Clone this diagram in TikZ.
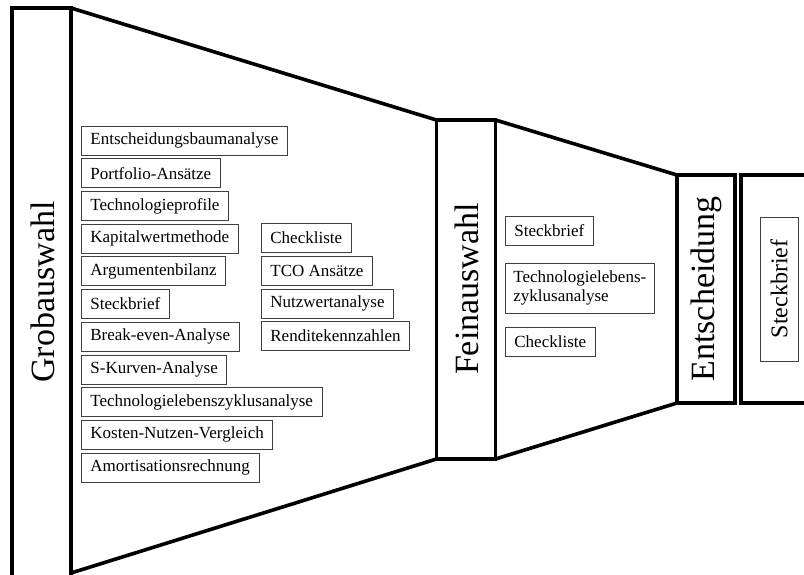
\documentclass[tikz,border=0pt]{standalone}
\usepackage{fontspec}
\setmainfont{Liberation Serif}
\begin{document}
\begin{tikzpicture}[x=1pt,y=-1pt,
  frame/.style={line width=3.6pt},
  item/.style={draw=black!75, line width=0.8pt, font=\fontsize{17}{19.5}\selectfont,
    inner xsep=9pt, inner ysep=0pt, minimum height=29pt, anchor=west},
  stage/.style={rotate=90, font=\fontsize{34}{40}\selectfont, inner sep=0pt}]
\useasboundingbox (0,0) rectangle (804,575);
% frame coordinates
\coordinate (g1) at (12,8);
\coordinate (g2) at (71,8);
\coordinate (g3) at (71,577);
\coordinate (g4) at (12,577);
\coordinate (g3b) at (71,573);
\coordinate (f1) at (436.5,120);
\coordinate (f2) at (495.5,120);
\coordinate (f3) at (495.5,459);
\coordinate (f4) at (436.5,459);
\coordinate (e1) at (677,175);
\coordinate (e2) at (735,175);
\coordinate (e3) at (735,403);
\coordinate (e4) at (677,403);
\coordinate (r1) at (741,175);
\coordinate (r2) at (741,403);
\coordinate (r1e) at (810,175);
\coordinate (r2e) at (810,403);
% frames
\draw[frame] (g1) -- (g2) -- (g3) -- (g4) -- cycle;
\draw[frame] (g2) -- (f1);
\draw[frame] (g3b) -- (f4);
\draw[frame] (f1) -- (f2) -- (f3) -- (f4) -- cycle;
\draw[frame] (f2) -- (e1);
\draw[frame] (f3) -- (e4);
\draw[frame] (e1) -- (e2) -- (e3) -- (e4) -- cycle;
\draw[frame] (r1e) -- (r1) -- (r2) -- (r2e);
% stage labels
\node[stage] (grob) at (43,292) {Grobauswahl};
\node[stage] (fein) at (467,289) {Feinauswahl};
\node[stage] (ents) at (706,289) {Entscheidung};
% left column
\node[item] (a1) at (81,140.5) {Entscheidungsbaumanalyse};
\node[item] (a2) at (81,173.2) {Portfolio-Ansätze};
\node[item] (a3) at (81,205.9) {Technologieprofile};
\node[item] (a4) at (81,238.6) {Kapitalwertmethode};
\node[item] (a5) at (81,271.3) {Argumentenbilanz};
\node[item] (a6) at (81,304) {Steckbrief};
\node[item] (a7) at (81,336.7) {Break-even-Analyse};
\node[item] (a8) at (81,369.4) {S-Kurven-Analyse};
\node[item] (a9) at (81,402.1) {Technologielebenszyklusanalyse};
\node[item] (a10) at (81,434.8) {Kosten-Nutzen-Vergleich};
\node[item] (a11) at (81,467.5) {Amortisationsrechnung};
% second column
\node[item] (b1) at (261,238) {Checkliste};
\node[item] (b2) at (261,270.7) {TCO Ansätze};
\node[item] (b3) at (261,303.4) {Nutzwertanalyse};
\node[item] (b4) at (261,336.1) {Renditekennzahlen};
% Feinauswahl column
\node[item] (c1) at (505,231) {Steckbrief};
\node[item, align=left, minimum height=50pt, inner xsep=8pt] (c2) at (505,288) {Technologielebens-\\zyklusanalyse};
\node[item] (c3) at (505,342) {Checkliste};
% Entscheidung item
\node[draw=black!75, line width=0.8pt, rotate=90, font=\fontsize{24}{28}\selectfont,
  minimum width=144pt, minimum height=38pt, inner sep=0pt] (d1) at (779,289) {Steckbrief};
\end{tikzpicture}
\end{document}
